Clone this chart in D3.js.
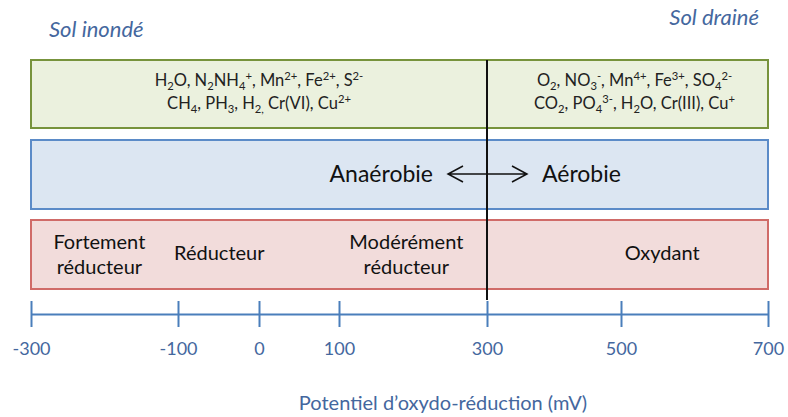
<!DOCTYPE html>
<html>
<head>
<meta charset="utf-8">
<script src="https://cdn.jsdelivr.net/npm/d3@7"></script>
<style>
  body { margin: 0; background: #fff; }
  text { font-family: Lato, 'Open Sans', sans-serif; }
</style>
</head>
<body>
<div class="redox"></div>
<script>
// axis values (mV) and where the original diagram placed them (not evenly spaced)
const tickValues = [-300, -100, 0, 100, 300, 500, 700];
const tickPixels = [31, 178, 259, 339, 487, 621, 768];
const threshold = 300;

const speciesReduced = ['H_{2}O, N_{2}NH_{4}^{+}, Mn^{2+}, Fe^{2+}, S^{2-}', 'CH_{4}, PH_{3}, H_{2,} Cr(VI), Cu^{2+}'];
const speciesOxidized = ['O_{2}, NO_{3}^{-}, Mn^{4+}, Fe^{3+}, SO_{4}^{2-}', 'CO_{2}, PO_{4}^{3-}, H_{2}O, Cr(III), Cu^{+}'];
const zoneLabels = [['Fortement', 'réducteur'], ['Réducteur'], ['Modérément', 'réducteur'], ['Oxydant']];
const zoneCenters = [-207, -49, 191, 556];

const width = 788, height = 417;
const blue = '#44679e';

const svg = d3.select('.redox').append('svg')
  .attr('width', width).attr('height', height);

const x = d3.scaleLinear().domain(tickValues).range(tickPixels);
const x0 = x(tickValues[0]), x1 = x(tickValues[tickValues.length - 1]);

function richText(sel, str, size) {
  const parts = str.split(/([_^]\{[^}]*\})/).filter(function(s) { return s.length; });
  let shift = 0;
  parts.forEach(function(p) {
    let target = 0, txt = p, fs = size;
    if (p[0] === '_') { target = size * 0.22; txt = p.slice(2, -1); fs = size * 0.68; }
    else if (p[0] === '^') { target = -size * 0.36; txt = p.slice(2, -1); fs = size * 0.68; }
    sel.append('tspan').attr('dy', target - shift).attr('font-size', fs).text(txt);
    shift = target;
  });
}

// titles
svg.append('text').attr('x', 49).attr('y', 37)
  .attr('font-size', 22).attr('font-style', 'italic').attr('fill', blue).text('Sol inondé');
svg.append('text').attr('x', 759).attr('y', 25).attr('text-anchor', 'end')
  .attr('font-size', 22).attr('font-style', 'italic').attr('fill', blue).text('Sol drainé');

// boxes
const boxes = [
  { y: 60, h: 68, fill: '#ebf1de', stroke: '#77933c' },
  { y: 140, h: 69, fill: '#dce6f2', stroke: '#5b8bc8' },
  { y: 220, h: 69, fill: '#f2dcdb', stroke: '#d06b68' }
];
svg.selectAll('.box').data(boxes).enter().append('rect')
  .attr('class', 'box')
  .attr('x', x0).attr('y', function(d) { return d.y; })
  .attr('width', x1 - x0).attr('height', function(d) { return d.h; })
  .attr('fill', function(d) { return d.fill; })
  .attr('stroke', function(d) { return d.stroke; })
  .attr('stroke-width', 2);

// chemical species
[[speciesReduced, (x0 + x(threshold)) / 2], [speciesOxidized, x(threshold) + (x1 - x(threshold)) / 2 + 7]].forEach(function(s) {
  s[0].forEach(function(line, i) {
    const t = svg.append('text').attr('x', s[1]).attr('y', 86 + i * 23)
      .attr('text-anchor', 'middle').attr('fill', '#222');
    richText(t, line, 16.5);
  });
});

// anaerobie / aerobie
const ya = 174;
svg.append('text').attr('x', x(threshold) - 54).attr('y', ya + 8).attr('text-anchor', 'end')
  .attr('font-size', 23).attr('fill', '#111').text('Anaérobie');
svg.append('text').attr('x', x(threshold) + 55).attr('y', ya + 8)
  .attr('font-size', 23).attr('fill', '#111').text('Aérobie');
const ax0 = x(threshold) - 39, ax1 = x(threshold) + 40;
svg.append('path')
  .attr('d', 'M' + ax0 + ',' + ya + 'H' + ax1 +
    'M' + (ax0 + 15) + ',' + (ya - 8) + 'L' + ax0 + ',' + ya + 'L' + (ax0 + 15) + ',' + (ya + 8) +
    'M' + (ax1 - 15) + ',' + (ya - 8) + 'L' + ax1 + ',' + ya + 'L' + (ax1 - 15) + ',' + (ya + 8))
  .attr('fill', 'none').attr('stroke', '#111').attr('stroke-width', 1.5);

// redox zones
zoneLabels.forEach(function(lines, i) {
  const t = svg.append('text').attr('x', x(zoneCenters[i]))
    .attr('y', lines.length > 1 ? 249 : 260)
    .attr('text-anchor', 'middle').attr('font-size', 20).attr('fill', '#111');
  lines.forEach(function(l, j) {
    t.append('tspan').attr('x', x(zoneCenters[i])).attr('dy', j ? 25 : 0).text(l);
  });
});

// threshold line
svg.append('line')
  .attr('x1', x(threshold)).attr('x2', x(threshold))
  .attr('y1', 60).attr('y2', 300)
  .attr('stroke', '#111').attr('stroke-width', 2);

// axis
const axisY = 314;
const axis = svg.append('g')
  .attr('transform', 'translate(0,' + axisY + ')')
  .call(d3.axisBottom(x).tickValues(tickValues).tickFormat(function(d) { return String(d); })
    .tickSize(13).tickSizeOuter(0).tickPadding(15));
axis.select('.domain').attr('stroke', '#4a7ebb').attr('stroke-width', 2);
axis.selectAll('.tick line').attr('y1', -13).attr('stroke', '#4a7ebb').attr('stroke-width', 2);
axis.selectAll('.tick text').attr('font-size', 18).attr('fill', blue)
  .attr('font-family', 'Lato, sans-serif');

svg.append('text').attr('x', 443).attr('y', 410).attr('text-anchor', 'middle')
  .attr('font-size', 20).attr('fill', blue).text('Potentiel d\u2019oxydo-réduction (mV)');
</script>
</body>
</html>
